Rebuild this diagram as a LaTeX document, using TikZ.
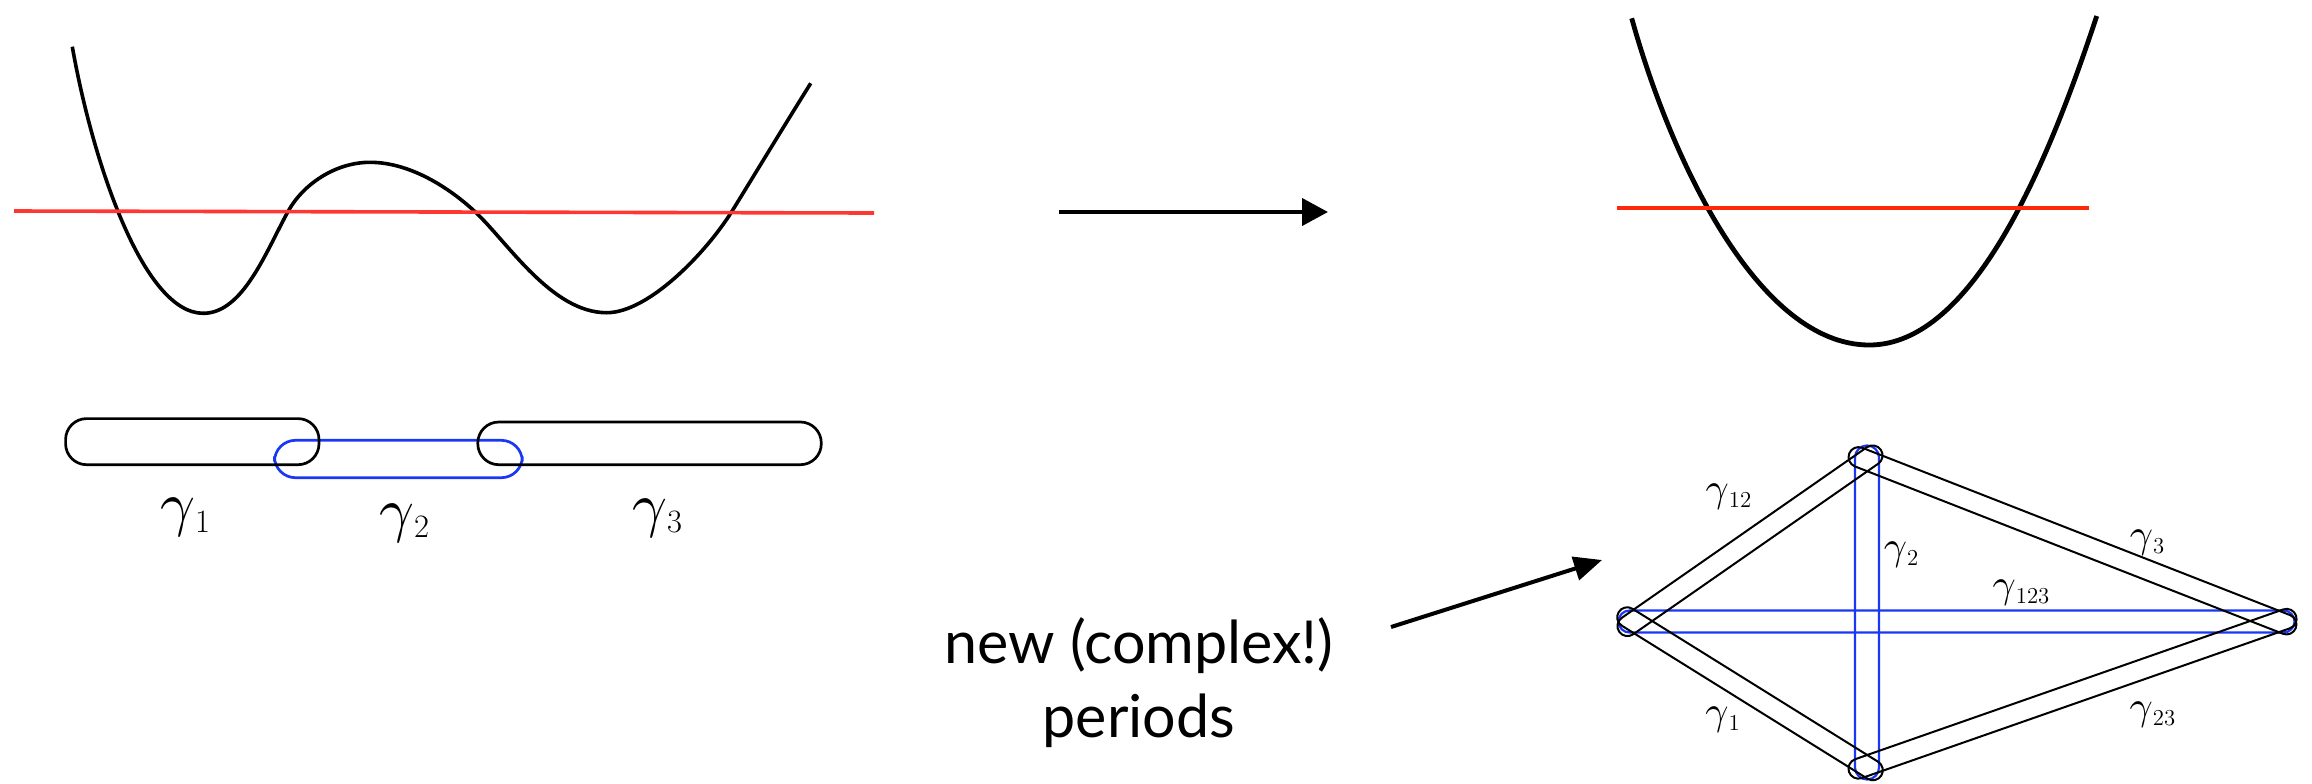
\documentclass[tikz,border=0pt]{standalone}
\usepackage{graphicx}
\usepackage{fontspec}
\newfontfamily\notefont{Lato}
\usetikzlibrary{arrows.meta,calc}

\definecolor{potred}{RGB}{255,55,50}
\definecolor{levelred}{RGB}{255,40,10}
\definecolor{cycleblue}{RGB}{25,55,245}

% gamma with a hand-sized subscript: gamma scale, subscript size, drop, subscript
\newcommand\gammalabel[4]{\scalebox{#1}{$\gamma$}\raisebox{-#3}{\fontsize{#2}{#2}\selectfont #4}}
\newcommand\biglabel[1]{\gammalabel{3.05}{16.3pt}{3.85pt}{#1}}
\newcommand\smalllabel[1]{\gammalabel{2.025}{11.4pt}{3pt}{#1}}

% closed tube (stadium) round the segment from #2 to #3, radius #4,
% its caps pushed #5 beyond both end points
\newcommand\drawtube[5]{%
  \draw[#1] let \p1=($(#3)-(#2)$), \n1={atan2(\y1,\x1)} in
    ($(#2)+(\n1+180:#5)+(\n1+90:#4)$) -- ($(#3)+(\n1:#5)+(\n1+90:#4)$)
    arc[start angle=\n1+90, end angle=\n1-90, radius=#4]
    -- ($(#2)+(\n1+180:#5)+(\n1-90:#4)$)
    arc[start angle=\n1-90, end angle=\n1-270, radius=#4] -- cycle;}

\tikzset{
  cyclebox/.style={line width=1.35pt, rounded corners=10.5pt},
  bigarrow/.style={line width=2pt, -{Triangle[length=13pt,width=13.5pt]}},
  blacktube/.style={line width=1pt},
  bluetube/.style={line width=1.1pt, cycleblue},
  glabel/.style={anchor=base, inner sep=0pt},
}

\begin{document}
\begin{tikzpicture}[x=0.5pt, y=-0.5pt, line join=round]
\useasboundingbox (0,0) rectangle (2312,783);

% ---- double-well potential with its energy level
\draw[line width=1.8pt]
  (72.3,46.7) .. controls (92.5,161) and (143,313.3) .. (203.3,313.3)
  .. controls (243.3,313.3) and (266.5,250.4) .. (288.3,211)
  .. controls (302.8,184.75) and (335,162.3) .. (370,162.3)
  .. controls (410,162.3) and (449.4,187.8) .. (475,211.7)
  .. controls (507.9,242.5) and (551.7,312.7) .. (606.7,312.7)
  .. controls (648,312.7) and (705.1,254) .. (731.7,211.7)
  .. controls (758,169) and (784,126) .. (810.7,83.3);
\draw[potred, line width=1.8pt] (14,211) -- (874,213);

% ---- cycles on the real line
\draw[cyclebox, cycleblue] (274.5,440.3) rectangle (522.3,477.7);
\draw[cyclebox] (65.6,418.6) rectangle (319,464.7);
\draw[cyclebox] (477.8,422) rectangle (821.3,464.7);
\node[glabel] (l1) at (185,524.7) {\biglabel{1}};
\node[glabel] (l2) at (404,530) {\biglabel{2}};
\node[glabel] (l3) at (657,525) {\biglabel{3}};

% ---- deformation arrow
\coordinate (da) at (1059,212);
\coordinate (db) at (1328,212);
\draw[bigarrow] (da) -- (db);

% ---- single-well potential
\draw[line width=2.4pt]
  (1631.7,18.3) .. controls (1671.9,162.8) and (1759.3,345) .. (1869.3,345)
  .. controls (1974.3,345) and (2049.7,158.5) .. (2096.7,16);
\draw[levelred, line width=2.3pt] (1617,208) -- (2089,208);

% ---- cycles of the deformed curve
\coordinate (L) at (1634,621.5);
\coordinate (T) at (1866,460);
\coordinate (R) at (2279,621.5);
\coordinate (B) at (1866,766);
\coordinate (vt) at (1867,457.5);
\coordinate (vb) at (1867,767.5);
\coordinate (hl) at (1629.5,621.5);
\coordinate (hr) at (2283.5,621.5);

\drawtube{bluetube}{vt}{vb}{6pt}{0pt}
\drawtube{bluetube}{hl}{hr}{5.5pt}{0pt}
\drawtube{blacktube}{L}{T}{5pt}{4pt}
\drawtube{blacktube}{T}{R}{5pt}{4pt}
\drawtube{blacktube}{L}{B}{5pt}{4pt}
\drawtube{blacktube}{B}{R}{5pt}{4pt}

\node[glabel] (s12) at (1728.5,501.3) {\smalllabel{12}};
\node[glabel] (s2) at (1901,559) {\smalllabel{2}};
\node[glabel] (s3) at (2147,547.5) {\smalllabel{3}};
\node[glabel] (s123) at (2021,597.5) {\smalllabel{123}};
\node[glabel] (s1) at (1722.5,724) {\smalllabel{1}};
\node[glabel] (s23) at (2152.5,719) {\smalllabel{23}};

% ---- note
\node[anchor=base, inner sep=0pt, font=\notefont\fontsize{29.6pt}{37pt}\selectfont] (n1) at (1139,663) {new (complex!)};
\node[anchor=base, inner sep=0pt, font=\notefont\fontsize{29.6pt}{37pt}\selectfont] (n2) at (1139,737) {periods};
\coordinate (pa) at (1391,627);
\coordinate (pb) at (1602,560);
\draw[line width=2pt, -{Triangle[length=14pt,width=12pt]}] (pa) -- (pb);
\end{tikzpicture}
\end{document}
